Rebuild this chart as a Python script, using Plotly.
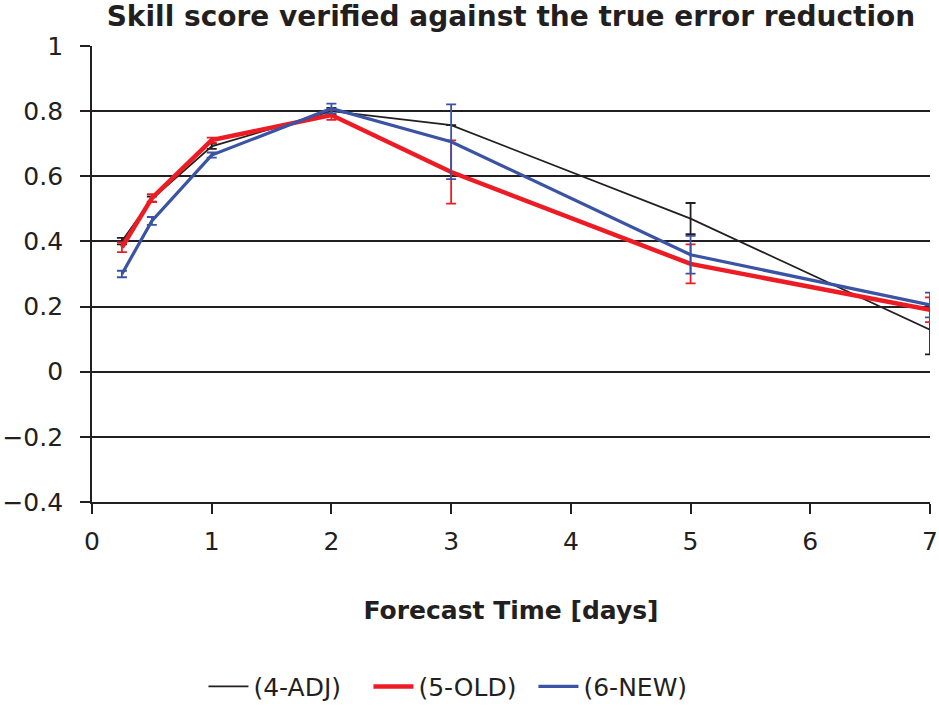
import plotly.graph_objects as go

# forecast times (days)
forecast_days = [0.25, 0.5, 1, 2, 3, 5, 7]

adj_score = [0.401, 0.530, 0.692, 0.800, 0.757, 0.470, 0.129]
adj_err = [0.010, 0.008, 0.008, 0.010, 0.0, 0.048, 0.076]

old_score = [0.382, 0.533, 0.711, 0.788, 0.613, 0.331, 0.190]
old_err = [0.015, 0.012, 0.008, 0.015, 0.097, 0.060, 0.038]

new_score = [0.300, 0.463, 0.665, 0.808, 0.706, 0.359, 0.205]
new_err = [0.010, 0.012, 0.008, 0.015, 0.115, 0.058, 0.038]

series_names = ['(4-ADJ)', '(5-OLD)', '(6-NEW)']
y_ticks = [-0.4, -0.2, 0, 0.2, 0.4, 0.6, 0.8, 1]
y_tick_labels = ['\u22120.4', '\u22120.2', '0', '0.2', '0.4', '0.6', '0.8', '1']

FONT = 'DejaVu Sans, Liberation Sans, sans-serif'
BLACK = '#231f20'
RED = '#ed1c24'
BLUE = '#3a53a4'

fig = go.Figure()

for name, ys, errs, color, width in [
    (series_names[0], adj_score, adj_err, BLACK, 1.7),
    (series_names[1], old_score, old_err, RED, 4.5),
    (series_names[2], new_score, new_err, BLUE, 3.2),
]:
    fig.add_trace(go.Scatter(
        x=forecast_days, y=ys, name=name, mode='lines',
        line=dict(color=color, width=width),
        error_y=dict(type='data', array=errs, visible=True,
                     color=color, thickness=1.8, width=5),
        cliponaxis=False,
    ))

fig.update_layout(
    width=939, height=707,
    margin=dict(l=92, r=9, t=46, b=205, autoexpand=False),
    paper_bgcolor='white', plot_bgcolor='white',
    font=dict(family=FONT, color=BLACK),
    title=dict(
        text='<b>Skill score verified against the true error reduction</b>',
        x=0.5, xref='paper', xanchor='center',
        y=0.991, yanchor='top', pad=dict(t=0),
        font=dict(size=28, color=BLACK),
    ),
    xaxis=dict(
        range=[0, 7], dtick=1, tick0=0,
        showgrid=False, zeroline=False,
        showline=True, linecolor=BLACK, linewidth=1.8,
        ticks='outside', ticklen=10, tickwidth=1.8, tickcolor=BLACK,
        ticklabelstandoff=6,
        tickfont=dict(size=25),
        title=dict(text='<b>Forecast Time [days]</b>', font=dict(size=25), standoff=47),
        automargin=False,
    ),
    yaxis=dict(
        range=[-0.4, 1], tickvals=y_ticks, ticktext=y_tick_labels,
        showgrid=True, gridcolor=BLACK, gridwidth=1.6,
        zeroline=False,
        showline=True, linecolor=BLACK, linewidth=1.8,
        ticks='outside', ticklen=10, tickwidth=1.8, tickcolor=BLACK,
        ticklabelstandoff=12,
        tickfont=dict(size=25),
        automargin=False,
    ),
    legend=dict(
        orientation='h', x=0.133, xanchor='left', y=-0.405, yanchor='middle',
        font=dict(size=25), itemwidth=40, entrywidth=110,
    ),
    showlegend=True,
)

fig.write_html('out.html', config={'displayModeBar': False},
               post_script="document.body.style.margin='0';")
